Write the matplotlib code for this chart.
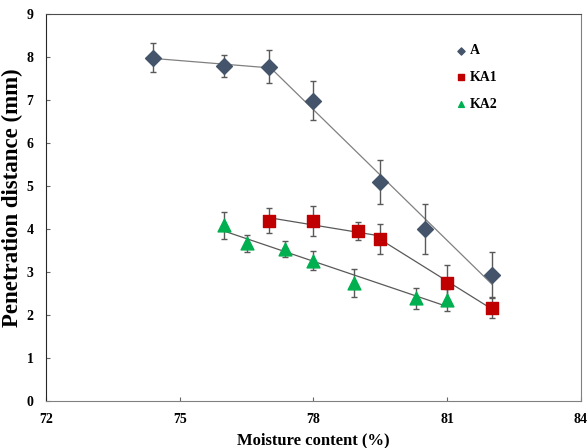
import numpy as np
import matplotlib.pyplot as plt

plt.rcParams['font.family'] = ['Liberation Serif', 'DejaVu Serif']
plt.rcParams['font.weight'] = 'bold'

# series A
a_x = [74.4, 76.0, 77.0, 78.0, 79.5, 80.5, 82.0]
a_y = [7.99, 7.80, 7.78, 6.99, 5.10, 4.00, 2.93]
a_err = [0.34, 0.25, 0.39, 0.46, 0.52, 0.58, 0.53]

# series KA1
k1_x = [77.0, 78.0, 79.0, 79.5, 81.0, 82.0]
k1_y = [4.20, 4.20, 3.95, 3.78, 2.74, 2.17]
k1_err = [0.30, 0.35, 0.21, 0.35, 0.42, 0.25]

# series KA2
k2_x = [76.0, 76.5, 77.36, 78.0, 78.9, 80.3, 81.0]
k2_y = [4.09, 3.67, 3.54, 3.26, 2.74, 2.39, 2.35]
k2_err = [0.32, 0.20, 0.18, 0.22, 0.33, 0.25, 0.25]

a_x, a_y = np.array(a_x), np.array(a_y)
k1_x, k1_y = np.array(k1_x), np.array(k1_y)
k2_x, k2_y = np.array(k2_x), np.array(k2_y)


def trend(ax, x, y, color):
    # linear trend line over the range of the given points
    p = np.poly1d(np.polyfit(x, y, 1))
    xs = np.array([x.min(), x.max()])
    ax.plot(xs, p(xs), color=color, linewidth=0.9, zorder=2)


fig = plt.figure(figsize=(5.88, 4.48), dpi=100)
ax = fig.add_axes([0.078, 0.105, 0.910, 0.863])

trend(ax, a_x[:3], a_y[:3], '0.5')
trend(ax, a_x[2:], a_y[2:], '0.5')
trend(ax, k1_x[:4], k1_y[:4], '0.35')
trend(ax, k1_x[3:], k1_y[3:], '0.35')
trend(ax, k2_x, k2_y, '0.35')

ebar = dict(ecolor='0.35', elinewidth=1.0, capsize=2.2, capthick=1.0, linestyle='none')
ax.errorbar(a_x, a_y, yerr=a_err, **ebar, zorder=3)
ax.errorbar(k1_x, k1_y, yerr=k1_err, **ebar, zorder=3)
ax.errorbar(k2_x, k2_y, yerr=k2_err, **ebar, zorder=3)

ax.scatter(a_x, a_y, marker='D', s=65, color='#44546A', label='A', zorder=4)
ax.scatter(k1_x, k1_y, marker='s', s=65, color='#C00000', label='KA1', zorder=4)
ax.scatter(k2_x, k2_y, marker='^', s=85, color='#00B050', label='KA2', zorder=4)

ax.set_xlim(72, 84)
ax.set_ylim(0, 9)
ax.set_xticks([72, 75, 78, 81, 84])
ax.set_yticks(range(10))
ax.tick_params(direction='in', length=3, color='0.4', labelsize=10)
ax.tick_params(axis='x', pad=9)
ax.tick_params(axis='y', pad=9)
ax.tick_params(top=False, right=False)
for s in ax.spines.values():
    s.set_color('0.5')
ax.spines['left'].set_color('0.15')
ax.spines['top'].set_color('0.3')

ax.set_xlabel('Moisture content (%)', fontsize=12, fontweight='bold', labelpad=4)
ax.set_ylabel('Penetration distance (mm)', fontsize=16.5, fontweight='bold')
ax.yaxis.set_label_coords(-0.042, 0.525)

leg = ax.legend(loc='upper left', bbox_to_anchor=(0.74, 0.955), frameon=False,
                prop={'weight': 'bold', 'size': 10}, markerscale=0.45,
                handletextpad=0.1, labelspacing=1.0, handlelength=1.0)

fig.savefig('out.png', dpi=100)
